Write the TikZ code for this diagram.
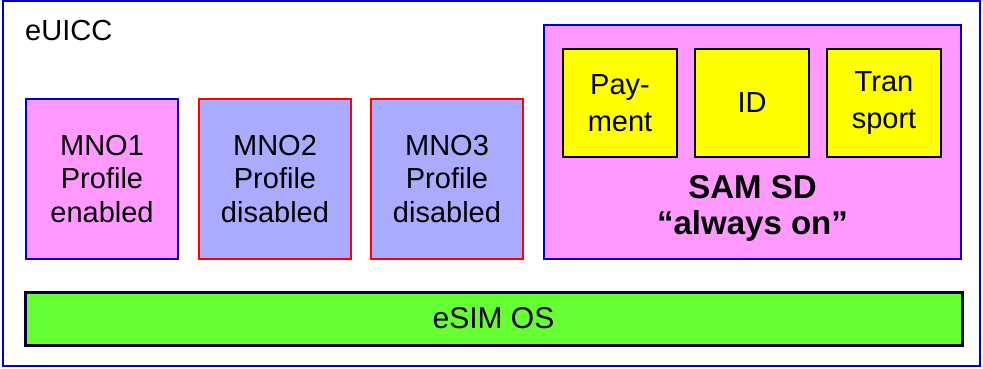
\documentclass[tikz,border=0pt]{standalone}
\usepackage{fontspec}
\setmainfont{Liberation Sans}
\definecolor{frameblue}{HTML}{0000CC}
\definecolor{profpink}{HTML}{FF99FF}
\definecolor{proflav}{HTML}{AAAAFF}
\definecolor{appyellow}{HTML}{FFFF00}
\definecolor{osgreen}{HTML}{66FF33}
\definecolor{osedge}{HTML}{000033}
\tikzset{
  box/.style={draw, line width=2pt, inner sep=0pt, align=center,
    font=\fontsize{29}{33.5}\selectfont},
  enabledbox/.style={box, draw=frameblue, fill=profpink,
    minimum width=152pt, minimum height=160pt},
  disabledbox/.style={box, draw=red, fill=proflav,
    minimum width=152pt, minimum height=160pt},
  appbox/.style={box, draw=black, fill=appyellow,
    minimum width=114pt, minimum height=108pt,
    font=\fontsize{29}{37}\selectfont},
}
\begin{document}
\begin{tikzpicture}[x=1pt, y=-1pt]
\useasboundingbox (0,0) rectangle (983,368);
% card frame
\node[draw=frameblue, line width=2pt, inner sep=0pt,
  minimum width=977pt, minimum height=365pt] (card) at (491.5,183.5) {};
\node[anchor=base west, inner sep=0pt, font=\fontsize{29}{33.5}\selectfont]
  (cardlabel) at (25,40) {eUICC};
% profiles
\node[enabledbox]  (mno1) at (102,179) {MNO1\\Profile\\enabled};
\node[disabledbox] (mno2) at (275,179) {MNO2\\Profile\\disabled};
\node[disabledbox] (mno3) at (447,179) {MNO3\\Profile\\disabled};
% security domain with its applets
\node[box, draw=frameblue, fill=profpink, minimum width=417pt,
  minimum height=234pt] (sam) at (752.5,142) {};
\node[appbox] (pay)   at (620,103) {Pay-\\ment};
\node[appbox] (id)    at (752,103) {ID};
\node[appbox] (trans) at (884,103) {Tran\\sport};
\node[align=center, inner sep=0pt,
  font=\fontsize{33}{36}\selectfont\bfseries] (samlabel) at (752.5,208)
  {SAM SD\\“always on”};
% operating system
\node[box, draw=osedge, line width=3pt, fill=osgreen,
  minimum width=937pt, minimum height=53pt,
  font=\fontsize{30}{34}\selectfont] (os) at (493.5,318.5) {eSIM OS};
\end{tikzpicture}
\end{document}
